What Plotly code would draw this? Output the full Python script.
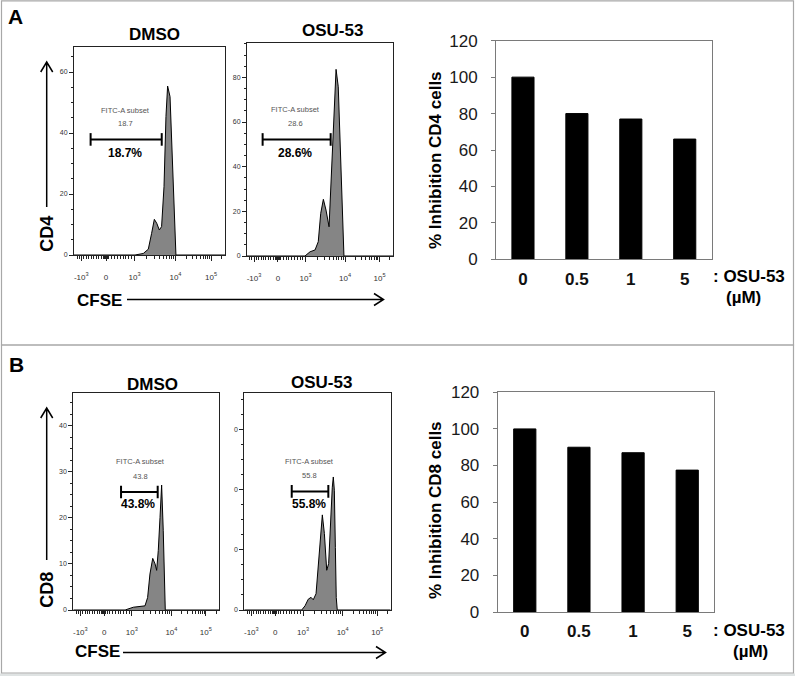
import math
import plotly.graph_objects as go

W, H = 795, 676
FONT = "Liberation Sans, Arial, sans-serif"

# ---- flow histograms (x = display channel on the CFSE logicle axis 0-1000, y = events)
cd4_dmso_x = [0, 404, 459, 492, 514, 532, 548, 565, 580, 596, 609, 620, 636, 649, 662, 675, 1000]
cd4_dmso_y = [0, 0, 0.5, 1.9, 7.1, 11.7, 10.4, 8.2, 9.3, 22.4, 45.4, 55.4, 51.9, 34.4, 12.6, 0, 0]

cd4_osu_x = [0, 397, 432, 466, 488, 505, 523, 541, 562, 575, 591, 610, 625, 637, 651, 664, 1000]
cd4_osu_y = [0, 0, 1.9, 2.7, 6.4, 19.1, 25.4, 20.6, 13.1, 31.0, 57.9, 83.6, 75.8, 54.9, 22.1, 0, 0]

cd8_dmso_x = [0, 355, 411, 445, 491, 509, 525, 544, 560, 571, 582, 594, 605, 616, 623, 630, 1000]
cd8_dmso_y = [0, 0, 0.6, 0.7, 0.9, 2.7, 7.8, 11.2, 10.0, 8.6, 12.9, 20.1, 27.1, 17.3, 4.2, 0, 0]

cd8_osu_x = [0, 392, 415, 437, 456, 471, 490, 506, 522, 533, 547, 563, 576, 590, 601, 608, 615, 622, 628, 635, 1000]
cd8_osu_y = [0, 0, 0.7, 1.8, 2.1, 1.7, 2.7, 7.7, 13.8, 15.8, 12.7, 6.6, 7.7, 15.4, 20.4, 22.1, 19.9, 10.4, 2.1, 0, 0]

# gate: [x start, x end, y level], label value
cd4_dmso_gate = [110, 581, 37.9]
cd4_osu_gate = [107, 573, 52.2]
cd8_dmso_gate = [327, 578, 25.6]
cd8_osu_gate = [324, 574, 19.7]
gate_values = ["18.7", "28.6", "43.8", "55.8"]

cfse_tick_pos = [48, 212, 401, 672, 908]
cfse_tick_text = ["-10<sup>3</sup>", "0", "10<sup>3</sup>", "10<sup>4</sup>", "10<sup>5</sup>"]

# ---- bar charts
doses = ["0", "0.5", "1", "5"]
cd4_inhibition = [100, 80, 77, 66]
cd8_inhibition = [100, 90, 87, 77.5]


def px(x):
    return x / W


def py(y):
    return 1 - y / H


# minor ticks on the logicle axis
def log_minor(p0, p1):
    return [p0 + (p1 - p0) * math.log10(k) for k in range(2, 10)]


cfse_minor = [48 + (212 - 48) * k / 10 for k in range(1, 10)]
cfse_minor += [212 + (401 - 212) * k / 10 for k in range(1, 10)]
cfse_minor += [20, 34, 200, 203, 205, 207, 209, 211, 214, 216, 218, 220, 223]
cfse_minor += log_minor(401, 672) + log_minor(672, 908)
cfse_minor += [908 + (908 - 672) * math.log10(2)]

fig = go.Figure()

flows = [
    (cd4_dmso_x, cd4_dmso_y, cd4_dmso_gate, "1"),
    (cd4_osu_x, cd4_osu_y, cd4_osu_gate, "2"),
    (cd8_dmso_x, cd8_dmso_y, cd8_dmso_gate, "4"),
    (cd8_osu_x, cd8_osu_y, cd8_osu_gate, "5"),
]
for xs, ys, gate, n in flows:
    fig.add_trace(go.Scatter(x=xs, y=ys, mode="lines", fill="tozeroy",
                             fillcolor="#858585", line=dict(color="black", width=1),
                             xaxis="x" + n, yaxis="y" + n, hoverinfo="skip"))
    fig.add_trace(go.Scatter(x=gate[:2], y=[gate[2], gate[2]], mode="lines+markers",
                             line=dict(color="black", width=2),
                             marker=dict(symbol="line-ns", size=9, line=dict(width=2, color="black")),
                             xaxis="x" + n, yaxis="y" + n, hoverinfo="skip"))

fig.add_trace(go.Bar(x=doses, y=cd4_inhibition, marker=dict(color="black", line=dict(color="black", width=1)),
                     width=0.41, xaxis="x3", yaxis="y3"))
fig.add_trace(go.Bar(x=doses, y=cd8_inhibition, marker=dict(color="black", line=dict(color="black", width=1)),
                     width=0.41, xaxis="x6", yaxis="y6"))


def flow_x(dom, anchor):
    return dict(domain=dom, anchor=anchor, range=[0, 1000], showgrid=False, zeroline=False,
                showline=True, linecolor="#222", linewidth=1, mirror=True, automargin=False,
                ticks="outside", ticklen=5, tickwidth=1, tickcolor="#222",
                tickmode="array", tickvals=cfse_tick_pos, ticktext=cfse_tick_text,
                tickfont=dict(size=8, color="#333", family=FONT), ticklabelstandoff=9,
                minor=dict(tickmode="array", tickvals=cfse_minor, ticks="outside",
                           ticklen=3, tickcolor="#222", tickwidth=1))


def flow_y(dom, anchor, top, dtick, minor_dtick, ticktext=None):
    d = dict(domain=dom, anchor=anchor, range=[0, top], showgrid=False, zeroline=False,
             showline=True, linecolor="#222", linewidth=1, mirror=True, automargin=False,
             ticks="outside", ticklen=4, tickwidth=1, tickcolor="#222",
             dtick=dtick, tick0=0, tickfont=dict(size=7, color="#333", family=FONT),
             minor=dict(dtick=minor_dtick, tick0=0, ticks="outside", ticklen=2,
                        tickcolor="#222", tickwidth=1))
    if ticktext:
        d.update(tickmode="array", tickvals=[i * dtick for i in range(len(ticktext))],
                 ticktext=ticktext)
    return d


def bar_x(dom, anchor):
    return dict(domain=dom, anchor=anchor, showgrid=False, zeroline=False, automargin=False,
                showline=True, linecolor="#7a7a7a", linewidth=1, mirror=True, ticks="",
                tickfont=dict(size=17, color="#111", family=FONT, weight="bold"),
                ticklabelstandoff=4)


def bar_y(dom, anchor):
    return dict(domain=dom, anchor=anchor, range=[0, 120], dtick=20, showgrid=False,
                zeroline=False, showline=True, linecolor="#7a7a7a", linewidth=1, mirror=True,
                automargin=False, ticks="outside", ticklen=4, tickcolor="#7a7a7a",
                ticklabelstandoff=10, tickfont=dict(size=17, color="#1a1a1a", family=FONT))


fig.update_layout(
    width=W, height=H, margin=dict(l=0, r=0, t=0, b=0, pad=0, autoexpand=False),
    paper_bgcolor="white", plot_bgcolor="white", showlegend=False,
    font=dict(family=FONT, color="black"),
    xaxis=flow_x([px(74), px(225)], "y"),
    yaxis=flow_y([py(255), py(47)], "x", 68.2, 20, 5),
    xaxis2=flow_x([px(247), px(393)], "y2"),
    yaxis2=flow_y([py(256), py(43)], "x2", 95.4, 20, 5),
    xaxis3=bar_x([px(496), px(711.7)], "y3"),
    yaxis3=bar_y([py(259.3), py(40.7)], "x3"),
    xaxis4=flow_x([px(73.3), px(219.3)], "y4"),
    yaxis4=flow_y([py(610), py(393.3)], "x4", 47, 10, 2.5),
    xaxis5=flow_x([px(244.3), px(390.7)], "y5"),
    yaxis5=flow_y([py(610), py(393.3)], "x5", 36, 10, 2.5, ["0", "0", "0", "0"]),
    xaxis6=bar_x([px(497.7), px(714.3)], "y6"),
    yaxis6=bar_y([py(612), py(392.3)], "x6"),
    bargap=0.59,
)

ann = []


def text(x, y, s, size, angle=0, bold=True):
    ann.append(dict(x=px(x), y=py(y), xref="paper", yref="paper", showarrow=False,
                    text="<b>%s</b>" % s if bold else s, textangle=angle,
                    font=dict(size=size, color="black", family=FONT),
                    xanchor="center", yanchor="middle"))


text(15, 17, "A", 21)
text(16, 364, "B", 21)
text(154, 34, "DMSO", 17)
text(332.5, 31, "OSU-53", 17)
text(152.5, 384, "DMSO", 17)
text(321.7, 382.5, "OSU-53", 17)
text(46.7, 234, "CD4", 18, -90)
text(46.7, 590, "CD8", 18, -90)
text(99, 300, "CFSE", 17)
text(97.3, 651.7, "CFSE", 17)
text(435, 160, "% Inhibition CD4 cells", 17, -90)
text(435, 510, "% Inhibition CD8 cells", 17, -90)
text(749, 277, ": OSU-53", 17)
text(743, 297.5, "(µM)", 17)
text(749, 630, ": OSU-53", 17)
text(750, 651, "(µM)", 17)

# gate labels in data coordinates
gate_labels = [
    ("1", 341, 47.5, 43.0, 338, 33.6),
    ("2", 334, 65.4, 59.4, 329, 46.3),
    ("4", 457, 32.2, 28.9, 445, 22.9),
    ("5", 443, 24.6, 22.3, 440, 17.6),
]
for (n, tx, ty1, ty2, px_, py_), val in zip(gate_labels, gate_values):
    ann.append(dict(x=tx, y=ty1, xref="x" + n, yref="y" + n, showarrow=False,
                    text="FITC-A subset", font=dict(size=7.5, color="#555", family=FONT)))
    ann.append(dict(x=tx, y=ty2, xref="x" + n, yref="y" + n, showarrow=False,
                    text=val, font=dict(size=7.5, color="#555", family=FONT)))
    ann.append(dict(x=px_, y=py_, xref="x" + n, yref="y" + n, showarrow=False,
                    text="<b>%s%%</b>" % val, font=dict(size=12, color="black", family=FONT)))

fig.update_layout(annotations=ann)


def arrow(x0, y0, x1, y1, head=10, half=6):
    dx, dy = x1 - x0, y1 - y0
    L = math.hypot(dx, dy)
    ux, uy = dx / L, dy / L
    bx, by = x1 - ux * head, y1 - uy * head
    h1 = (bx - uy * half, by + ux * half)
    h2 = (bx + uy * half, by - ux * half)
    pts = lambda p: "%f,%f" % (px(p[0]), py(p[1]))
    path = "M %s L %s M %s L %s L %s" % (pts((x0, y0)), pts((x1, y1)), pts(h1), pts((x1, y1)), pts(h2))
    return dict(type="path", path=path, xref="paper", yref="paper",
                line=dict(color="black", width=1.5))


shapes = [
    dict(type="rect", xref="paper", yref="paper", x0=0, x1=1, y0=0, y1=py(673.5),
         fillcolor="#dfe3e3", line=dict(width=0)),
    dict(type="rect", xref="paper", yref="paper", x0=px(1.5), x1=px(793.5), y0=py(345), y1=py(0.8),
         line=dict(color="#a8a8a8", width=1.2)),
    dict(type="rect", xref="paper", yref="paper", x0=px(1.5), x1=px(793.5), y0=py(673), y1=py(345),
         line=dict(color="#a8a8a8", width=1.2)),
    arrow(46.7, 207, 46.7, 62),
    arrow(46.7, 560, 46.7, 408),
    arrow(127, 299.5, 383.5, 299.5, 9.5, 6),
    arrow(123, 652.5, 385.5, 652.5, 9.5, 6),
]
fig.update_layout(shapes=shapes)

fig.write_html("out.html", config={"displayModeBar": False},
               post_script="document.body.style.margin='0';document.body.style.overflow='hidden';"
                           "var d=document.getElementById('{plot_id}');"
                           "d.style.position='absolute';d.style.left='0px';d.style.top='0px';")
